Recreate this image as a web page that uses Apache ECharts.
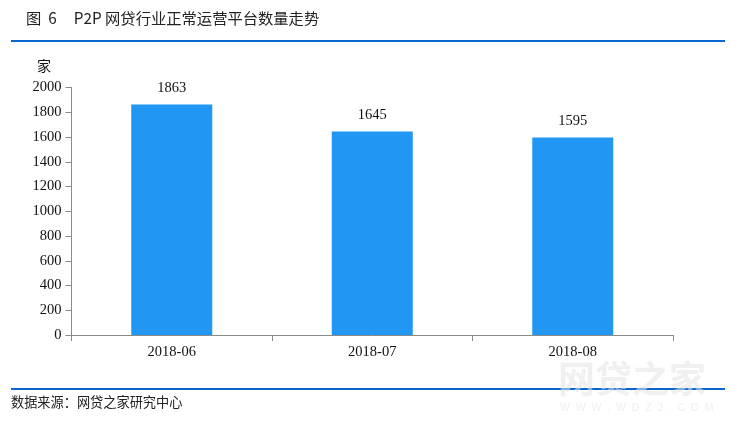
<!DOCTYPE html>
<html><head><meta charset="utf-8">
<style>html,body{margin:0;padding:0;background:#fff}#c{width:730px;height:423px}</style>
<script src="https://cdn.jsdelivr.net/npm/echarts@6/dist/echarts.min.js"></script>
</head><body><div id="c"></div>
<script>
var categories = ['2018-06', '2018-07', '2018-08'];
var platforms = [1863, 1645, 1595];
var titleText = '图  6     P2P 网贷行业正常运营平台数量走势';
var sourceText = '数据来源：网贷之家研究中心';
var unitText = '家';
var cjk = '"Noto Sans CJK SC","Liberation Sans",sans-serif';
var serif = '"Liberation Serif","Noto Sans CJK SC",serif';
var chart = echarts.init(document.getElementById('c'), null, {renderer:'canvas'});
chart.setOption({
  animation:false,
  backgroundColor:'#fff',
  grid:{left:71.5,right:57,top:87.5,bottom:88},
  xAxis:{type:'category',data:categories,
    axisLine:{lineStyle:{color:'#8a8a8a',width:1}},
    axisTick:{show:true,length:6,lineStyle:{color:'#8a8a8a'}},
    axisLabel:{color:'#111',fontFamily:serif,fontSize:14.5,margin:10}},
  yAxis:{type:'value',min:0,max:2000,interval:200,
    axisLine:{show:true,lineStyle:{color:'#8a8a8a',width:1}},
    axisTick:{show:true,length:6,lineStyle:{color:'#8a8a8a'}},
    splitLine:{show:false},
    axisLabel:{color:'#111',fontFamily:serif,fontSize:14.5,margin:10,formatter:function(v){return String(v);}}},
  series:[{type:'bar',data:platforms,barWidth:81,itemStyle:{color:'#2196f3'},
    label:{show:true,position:'top',distance:9,color:'#111',fontFamily:serif,fontSize:14.5}}],
  graphic:[
    {type:'rect',silent:true,shape:{x:11,y:40,width:714,height:2},style:{fill:'#0a66cc'}},
    {type:'rect',silent:true,shape:{x:11,y:388,width:714,height:2},style:{fill:'#0a66cc'}},
    {type:'text',silent:true,x:26,y:18,style:{text:titleText,fill:'#222',font:'15.3px '+cjk,textVerticalAlign:'middle'}},
    {type:'text',silent:true,x:37,y:66,style:{text:unitText,fill:'#111',font:'14px '+cjk,textVerticalAlign:'middle'}},
    {type:'text',silent:true,x:11,y:402,style:{text:sourceText,fill:'#222',font:'13.2px '+cjk,textVerticalAlign:'middle'}},
    {type:'text',silent:true,x:558,y:379,style:{text:'网贷之家',fill:'rgba(228,228,228,0.55)',font:'bold 37px '+cjk,textVerticalAlign:'middle'}},
    {type:'text',silent:true,x:560,y:408,style:{text:'W  W  W  .  W  D  Z  J  .  C  O  M',fill:'rgba(228,228,228,0.6)',font:'10.5px "Liberation Sans",sans-serif',textVerticalAlign:'middle'}}
  ]
});
</script></body></html>
